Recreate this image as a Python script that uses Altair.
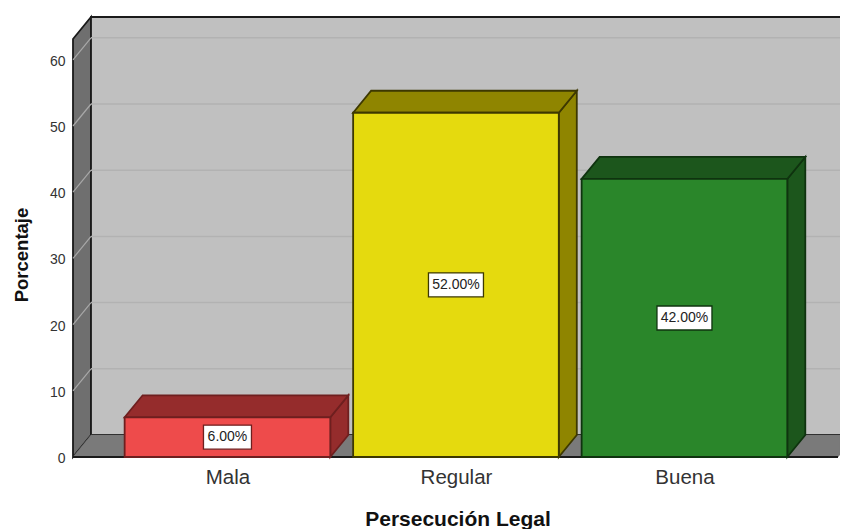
import altair as alt
import pandas as pd

categories = ["Mala", "Regular", "Buena"]
values = [6, 52, 42]
labels = ["6.00%", "52.00%", "42.00%"]
front_colors = ["#ee4b4b", "#e5da0e", "#2a862a"]
dark_colors = ["#952c2c", "#8f8500", "#1c561c"]
edge_colors = ["#6e1f1f", "#3d3800", "#0f330f"]
y_ticks = [0, 10, 20, 30, 40, 50, 60]

PLOT_W = 767
PX_X = 228.5          # pixels per category step
PX_Y = 6.62           # pixels per percent
X_MIN = -0.676
X_MAX = X_MIN + PLOT_W / PX_X
Y_MAX = 440 / PX_Y
DX = 18 / PX_X        # depth of the 3D effect, in data units
DY = 22 / PX_Y
HALF = 0.45
BOX_H = 12 / PX_Y

x_scale = alt.Scale(domain=[X_MIN, X_MAX], nice=False, zero=False)
y_scale = alt.Scale(domain=[0, Y_MAX], nice=False, zero=False)
WALL_TOP = Y_MAX
FLOOR_RIGHT = X_MIN + 765 / PX_X

x_axis = alt.Axis(
    values=[0, 1, 2], labelExpr="['Mala','Regular','Buena'][datum.value]",
    title="Persecución Legal", ticks=False, domain=False, grid=False,
    labelFontSize=20.5, labelColor="#333333", labelPadding=10, labelFont="Liberation Sans",
    titleFont="Liberation Sans", titleFontSize=21, titleFontWeight="bold", titleColor="#111111",
    titleX=384.5, titleY=68, titleBaseline="alphabetic",
)
y_axis = alt.Axis(
    values=y_ticks, title="Porcentaje", ticks=False, domain=False, grid=False,
    labelFontSize=14, labelColor="#333333", labelPadding=8, labelOffset=1.5, labelFont="Liberation Sans",
    titleFont="Liberation Sans", titleFontSize=18.5, titleFontWeight="bold", titleColor="#111111",
    titleX=-52, titleY=237.5, titleAngle=-90, titleAlign="center", titleBaseline="middle",
)


def X(field):
    return alt.X(field, scale=x_scale, axis=x_axis)


def Y(field):
    return alt.Y(field, scale=y_scale, axis=y_axis, stack=None)


def shape(points, fill, edge, name):
    return [dict(x=p[0], y=p[1], y2=p[2], fill=fill, edge=edge, part=name) for p in points]


def area_layer(rows, width=1.8):
    df = pd.DataFrame(rows)
    return alt.Chart(df).mark_area(orient="vertical", strokeWidth=width, line=False).encode(
        x=X("x:Q"),
        y=Y("y:Q"),
        y2="y2:Q",
        fill=alt.Fill("fill:N", scale=None),
        stroke=alt.Stroke("edge:N", scale=None),
        detail="part:N",
    )


# Box walls and floor
left_wall = shape([(X_MIN, 0, WALL_TOP - DY), (X_MIN + DX, DY, WALL_TOP)], "#6f6f6f", "#1a1a1a", "left")
back_wall = shape([(X_MIN + DX, DY, WALL_TOP), (X_MAX + 0.1, DY, WALL_TOP)], "#c0c0c0", "#1a1a1a", "back")
floor = shape(
    [(X_MIN, 0, 0), (X_MIN + DX, 0, DY), (FLOOR_RIGHT, 0, DY), (X_MAX, DY * 2 / 18, DY)],
    "#7a7a7a", "#7a7a7a", "floor",
)

grid_df = pd.DataFrame({"v": y_ticks[1:]})
back_grid = alt.Chart(grid_df).transform_calculate(
    y0=f"datum.v + {DY}", x0=f"{X_MIN + DX}", x1=f"{X_MAX}"
).mark_rule(color="#b2b2b2", strokeWidth=1.5).encode(
    x=X("x0:Q"), x2="x1:Q", y=Y("y0:Q")
)
side_grid_rows = []
for v in y_ticks[1:]:
    side_grid_rows.append(dict(x=X_MIN, y=v, g=v))
    side_grid_rows.append(dict(x=X_MIN + DX, y=v + DY, g=v))
side_grid = alt.Chart(pd.DataFrame(side_grid_rows)).mark_line(color="#a8a8a8", strokeWidth=1.2).encode(
    x=X("x:Q"),
    y=Y("y:Q"),
    detail="g:N",
)

base_line = alt.Chart(pd.DataFrame({"a": [X_MIN], "b": [FLOOR_RIGHT], "c": [0]})).mark_rule(
    color="#1a1a1a", strokeWidth=2
).encode(x=X("a:Q"), x2="b:Q", y=Y("c:Q"))

# Bars
side_rows, top_rows, front_rows, box_rows = [], [], [], []
box_half_px = [24, 27.5, 27.5]
for i, (cat, val) in enumerate(zip(categories, values)):
    x0, x1 = i - HALF, i + HALF
    side_rows += shape([(x1, 0, val), (x1 + DX, DY, val + DY)], dark_colors[i], edge_colors[i], f"side{i}")
    top_rows += shape(
        [(x0, val, val), (x0 + DX, val, val + DY), (x1, val, val + DY), (x1 + DX, val + DY, val + DY)],
        dark_colors[i], edge_colors[i], f"top{i}",
    )
    front_rows.append(dict(x=x0, x2=x1, y=0, y2=val, fill=front_colors[i], edge=edge_colors[i]))
    box_rows.append(dict(
        x=i - box_half_px[i] / PX_X, x2=i + box_half_px[i] / PX_X, xc=i,
        y=val / 2 - BOX_H, y2=val / 2 + BOX_H, yc=val / 2, edge=edge_colors[i], label=labels[i],
    ))

front = alt.Chart(pd.DataFrame(front_rows)).mark_rect(strokeWidth=1.8).encode(
    x=X("x:Q"), x2="x2:Q",
    y=Y("y:Q"), y2="y2:Q",
    fill=alt.Fill("fill:N", scale=None), stroke=alt.Stroke("edge:N", scale=None),
)
boxes = alt.Chart(pd.DataFrame(box_rows)).mark_rect(fill="white", strokeWidth=1.3).encode(
    x=X("x:Q"), x2="x2:Q",
    y=Y("y:Q"), y2="y2:Q",
    stroke=alt.Stroke("edge:N", scale=None),
)
box_text = alt.Chart(pd.DataFrame(box_rows)).mark_text(
    font="Liberation Sans", fontSize=14, color="#222222"
).encode(
    x=X("xc:Q"),
    y=Y("yc:Q"),
    text="label:N",
)

chart = alt.layer(
    area_layer(left_wall),
    area_layer(back_wall),
    area_layer(floor, width=0.5),
    back_grid,
    side_grid,
    base_line,
    area_layer(side_rows),
    area_layer(top_rows),
    front,
    boxes,
    box_text,
).properties(
    width=PLOT_W,
    height=440,
    autosize=alt.AutoSizeParams(type="none"),
    padding={"left": 65, "top": 9, "right": 0, "bottom": 72},
    background="white",
).configure_view(stroke=None)

chart.save("out.html", embed_options={"renderer": "svg", "actions": False})
